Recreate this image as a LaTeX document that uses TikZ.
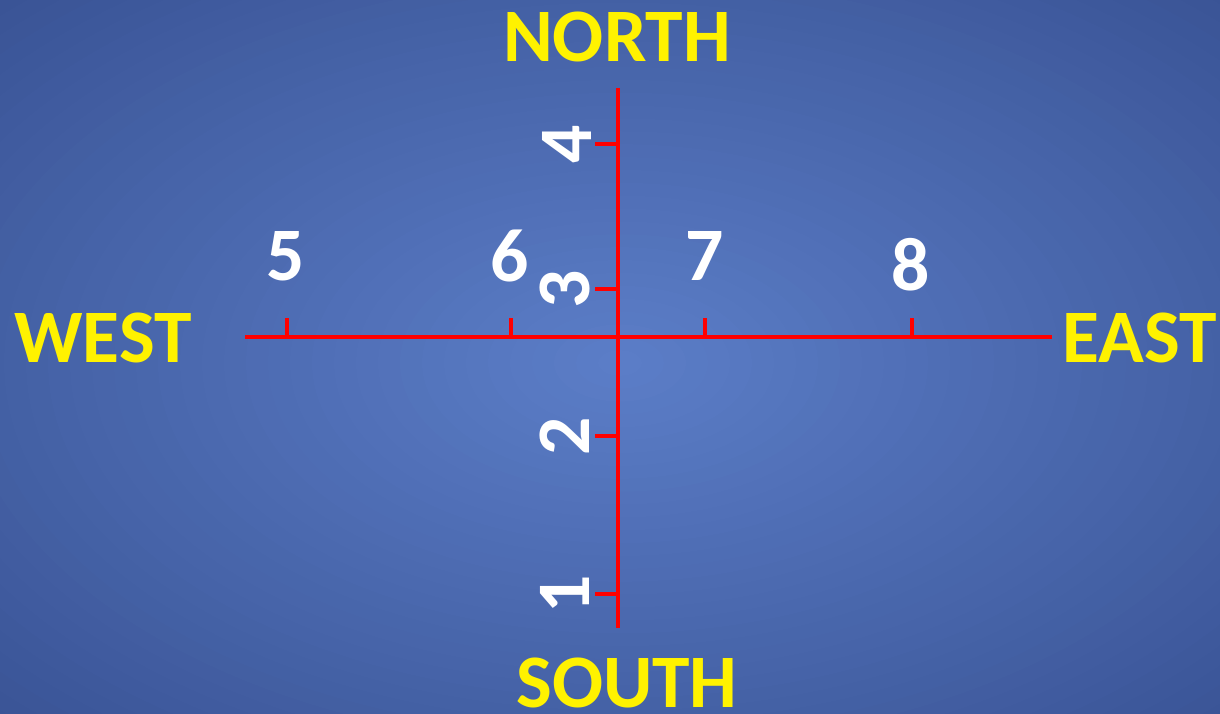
\documentclass[tikz,border=0pt]{standalone}
\usepackage{fontspec}
\setmainfont{Carlito}
\usetikzlibrary{positioning}

\definecolor{bginner}{RGB}{92,126,200}
\definecolor{bgouter}{RGB}{58,84,150}

\begin{document}
\begin{tikzpicture}[
			compass/.style={text=yellow, font=\fontsize{43}{43}\selectfont\bfseries, inner sep=0pt},
			num/.style={text=white, font=\fontsize{43}{43}\selectfont\bfseries, inner sep=0pt},
			vnum/.style={num, rotate=90},
			axis/.style={draw=red, line width=2.8pt},
			tick/.style={draw=red, line width=2.6pt}
			]
			
			% Background glow
			\useasboundingbox (0,0) rectangle (24.4,14.26);
			\begin{scope}
				\clip (0,0) rectangle (24.4,14.26);
				\foreach \i in {40,39,...,1}{
					\pgfmathsetmacro{\p}{100*\i/40}
					\fill[bgouter!\p!bginner] (12.4,7.0) ellipse ({17.6*\i/40} and {10.3*\i/40});
				}
			\end{scope}
			
			% Axis ends
			\coordinate (w) at (4.9,7.52);
			\coordinate (e) at (21.04,7.52);
			\coordinate (n) at (12.36,12.5);
			\coordinate (s) at (12.36,1.7);
			
			% Axes
			\draw[axis] (w) -- (e);
			\draw[axis] (n) -- (s);
			
			% Directions
			\node[compass] (north) at (12.34,13.52) {NORTH};
			\node[compass] (south) at (12.54,0.6) {SOUTH};
			\node[compass] (west) at (2.06,7.5) {WEST};
			\node[compass] (east) at (22.8,7.5) {EAST};
			
			% Ticks along west-east
			\coordinate (t5) at (5.74,7.52);
			\coordinate (t6) at (10.22,7.52);
			\coordinate (t7) at (14.1,7.52);
			\coordinate (t8) at (18.24,7.52);
			\draw[tick] (t5) -- ++(0,0.38);
			\draw[tick] (t6) -- ++(0,0.38);
			\draw[tick] (t7) -- ++(0,0.38);
			\draw[tick] (t8) -- ++(0,0.38);
			
			\node[num] (n5) at (5.72,9.14) {5};
			\node[num] (n6) at (10.2,9.14) {6};
			\node[num] (n7) at (14.1,9.14) {7};
			\node[num] (n8) at (18.22,8.96) {8};
			
			% Ticks along south-north
			\coordinate (t1) at (12.36,2.38);
			\coordinate (t2) at (12.36,5.54);
			\coordinate (t3) at (12.36,8.48);
			\coordinate (t4) at (12.36,11.38);
			\draw[tick] (t1) -- ++(-0.46,0);
			\draw[tick] (t2) -- ++(-0.46,0);
			\draw[tick] (t3) -- ++(-0.46,0);
			\draw[tick] (t4) -- ++(-0.46,0);
			
			\node[vnum] (n1) at (11.3,2.38) {1};
			\node[vnum] (n2) at (11.3,5.54) {2};
			\node[vnum] (n3) at (11.3,8.48) {3};
			\node[vnum] (n4) at (11.34,11.38) {4};
			
		\end{tikzpicture}
\end{document}
